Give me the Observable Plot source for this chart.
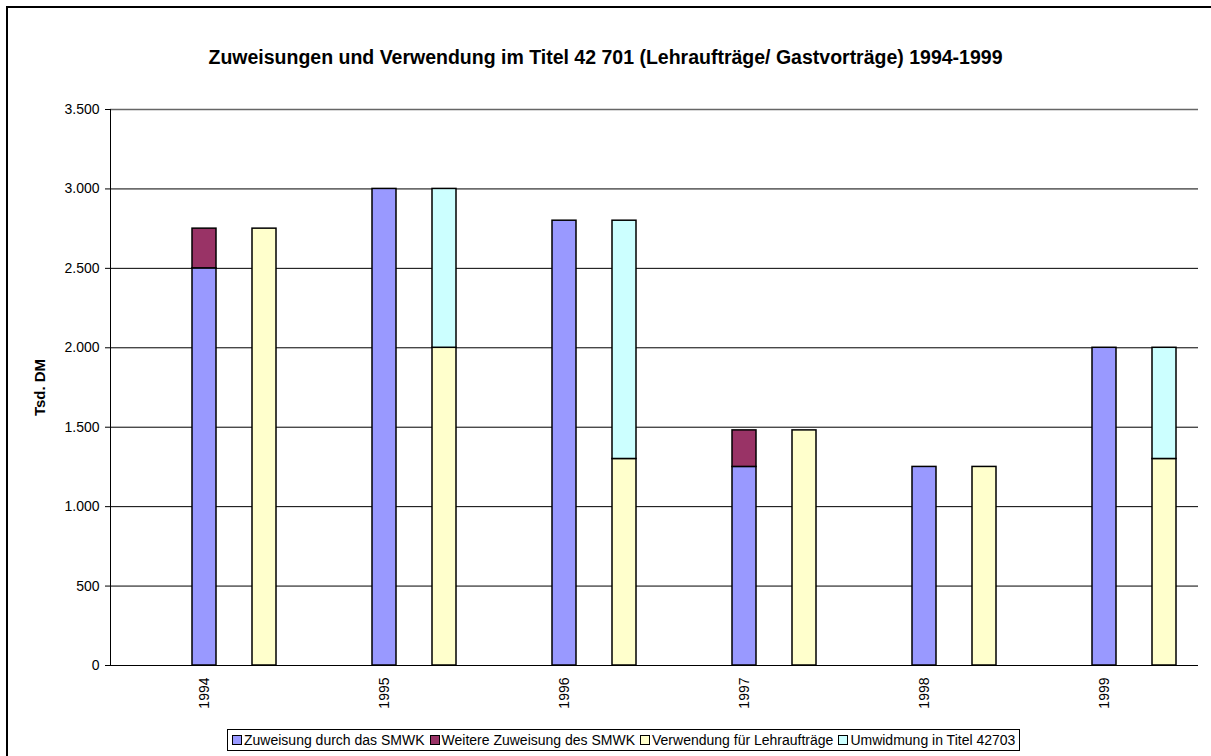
<!DOCTYPE html>
<html><head><meta charset="utf-8">
<script src="https://cdn.jsdelivr.net/npm/d3@7"></script>
<script src="https://cdn.jsdelivr.net/npm/@observablehq/plot@0.6"></script>
<style>
body{margin:0;background:#fff;font-family:"Liberation Sans",Arial,sans-serif;}
#wrap{position:relative;width:1211px;height:756px;overflow:hidden;background:#fff;}
#frame{position:absolute;left:6px;top:6px;width:1300px;height:800px;border:2px solid #000;box-sizing:border-box;}
#title{position:absolute;top:46px;left:0px;width:1211px;text-align:center;font-weight:bold;font-size:19.5px;white-space:nowrap;}
#chart{position:absolute;left:0;top:0;}
#legend{position:absolute;top:729px;left:227px;border:1px solid #000;display:flex;align-items:center;font-size:14px;padding:2px 4px 2px 4px;background:#fff;white-space:nowrap;}
#legend .it{display:flex;align-items:center;margin-right:5px;}
#legend .it:last-child{margin-right:0;}
#legend .sw{width:8px;height:8px;border:1px solid #000;margin-right:2px;}
</style>
</head><body>
<div id="wrap">
  <div id="frame"></div>
  <div id="chart"></div>
  <div id="title"></div>
  <div id="legend"></div>
</div>
<script>
const titleText = "Zuweisungen und Verwendung im Titel 42 701 (Lehraufträge/ Gastvorträge) 1994-1999";
const yLabel = "Tsd. DM";
const years = ["1994", "1995", "1996", "1997", "1998", "1999"];
const seriesNames = ["Zuweisung durch das SMWK", "Weitere Zuweisung des SMWK", "Verwendung für Lehraufträge", "Umwidmung in Titel 42703"];
const seriesColors = ["#9999FF", "#993366", "#FFFFCC", "#CCFFFF"];
const zuweisung = [2500, 3000, 2800, 1250, 1250, 2000];
const weitere = [250, 0, 0, 230, 0, 0];
const verwendung = [2750, 2000, 1300, 1480, 1250, 1300];
const umwidmung = [0, 1000, 1500, 0, 0, 700];
const yTicks = [0, 500, 1000, 1500, 2000, 2500, 3000, 3500];

// three slots per year: empty, allocation bar, usage bar
const slots = years.flatMap(y => [y + "-0", y + "-a", y + "-b"]);
const labelSlots = years.map(y => y + "-a");

const rows = [];
years.forEach((y, i) => {
  rows.push({slot: y + "-a", series: seriesNames[0], value: zuweisung[i]});
  rows.push({slot: y + "-a", series: seriesNames[1], value: weitere[i]});
  rows.push({slot: y + "-b", series: seriesNames[2], value: verwendung[i]});
  rows.push({slot: y + "-b", series: seriesNames[3], value: umwidmung[i]});
});
const data = rows.filter(d => d.value > 0);

const fmt = d => d3.format(",")(d).replace(/,/g, ".");
const topTick = yTicks[yTicks.length - 1];

const chart = Plot.plot({
  width: 1211,
  height: 720,
  marginTop: 109,
  marginBottom: 55,
  marginLeft: 110,
  marginRight: 13,
  style: {fontFamily: "'Liberation Sans', Arial, sans-serif", fontSize: "14px", background: "transparent", color: "#000", overflow: "visible"},
  x: {domain: slots, paddingInner: 0.6, paddingOuter: 0.3, align: 0.5},
  y: {domain: [0, 3500]},
  color: {domain: seriesNames, range: seriesColors},
  marks: [
    Plot.gridY(yTicks.filter(t => t !== topTick), {stroke: "#000", strokeOpacity: 1, strokeWidth: 1}),
    Plot.gridY([topTick], {stroke: "#666", strokeOpacity: 1, strokeWidth: 1.5}),
    Plot.barY(data, {x: "slot", y: "value", fill: "series", stroke: "#000", strokeWidth: 1.5}),
    Plot.ruleY([0], {stroke: "#000", strokeWidth: 1}),
    Plot.frame({anchor: "left", stroke: "#000", strokeWidth: 1}),
    Plot.axisY(yTicks, {tickFormat: fmt, tickSize: 5, tickPadding: 6, label: null, stroke: "#000"}),
    Plot.axisX(labelSlots, {tickFormat: s => s.slice(0, 4), tickRotate: -90, tickSize: 0, tickPadding: 12, label: null}),
    Plot.text([yLabel], {frameAnchor: "left", textAnchor: "middle", rotate: -90, dx: -70, fontWeight: "bold", fontSize: 15})
  ]
});
document.getElementById("chart").appendChild(chart);
document.getElementById("title").textContent = titleText;

const legend = document.getElementById("legend");
seriesNames.forEach((n, i) => {
  const it = document.createElement("div");
  it.className = "it";
  const sw = document.createElement("div");
  sw.className = "sw";
  sw.style.background = seriesColors[i];
  const t = document.createElement("span");
  t.textContent = n;
  it.appendChild(sw); it.appendChild(t);
  legend.appendChild(it);
});
</script>
</body></html>
